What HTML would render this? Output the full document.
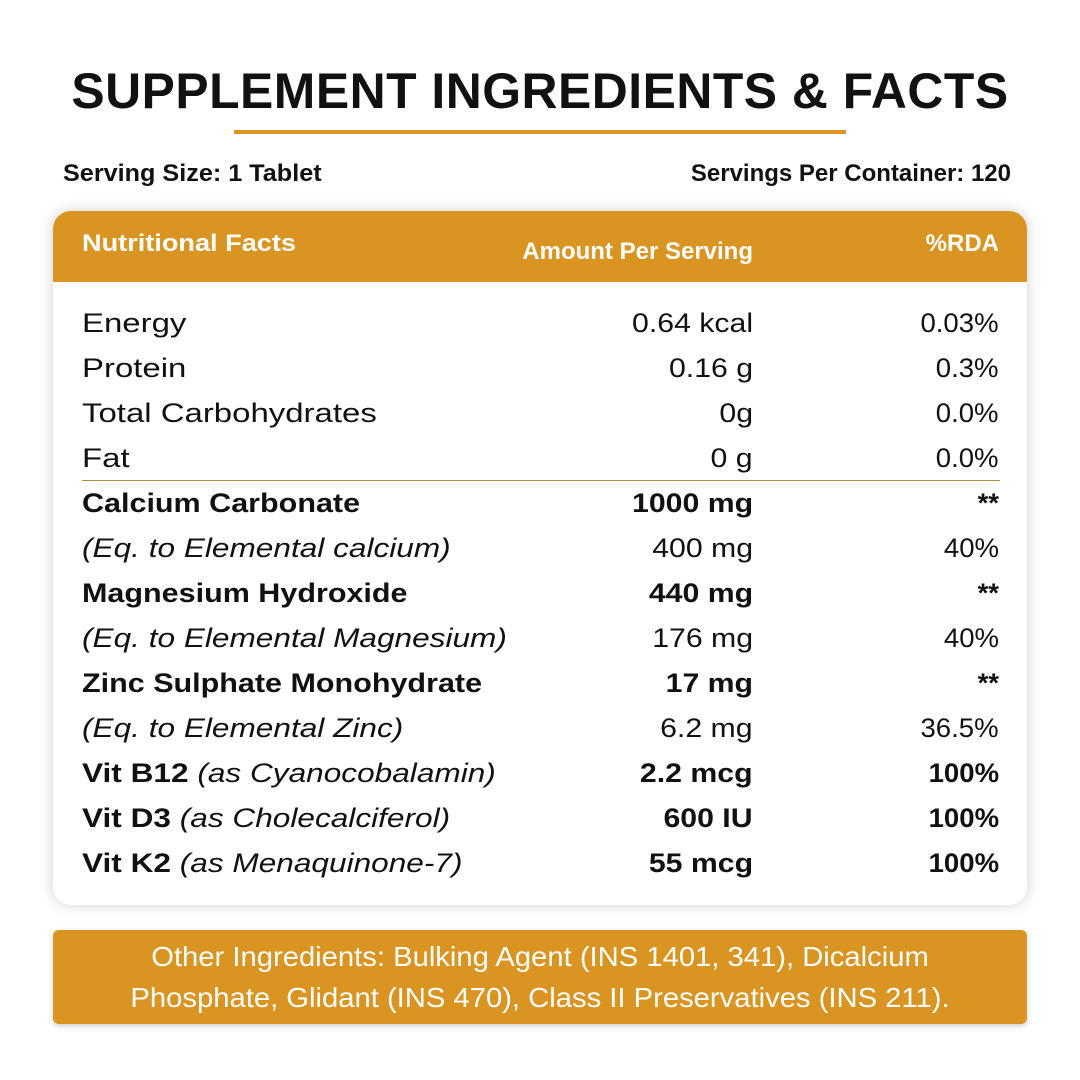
<!DOCTYPE html>
<html><head><meta charset="utf-8"><style>
body{margin:0;width:1080px;height:1080px;background:#fff;font-family:"Liberation Sans",sans-serif;color:#111;position:relative;overflow:hidden}
.a{position:absolute;white-space:nowrap}
h1{position:absolute;left:0;width:1080px;top:62px;margin:0;text-align:center;font-size:50px;font-weight:900;letter-spacing:0.5px;transform:scaleX(0.997)}
.card{position:absolute;left:53px;top:211px;width:974px;height:694px;border-radius:18px;background:#fff;box-shadow:0 0 14px rgba(0,0,0,0.18);overflow:hidden}
.hd{position:absolute;left:0;top:0;width:974px;height:71px;background:#D99422}
.r{position:absolute;left:0;width:1080px;height:45px;font-size:27px;line-height:45px}
.r span{display:inline-block}
.r .n{position:absolute;left:82px;transform-origin:left center;transform:scaleX(1.22)}
.r .n.b{transform:scaleX(1.13)}
.r .n.it{transform:scaleX(1.17)}
.r .m{position:absolute;right:327px;transform-origin:right center;transform:scaleX(1.12)}
.r .p{position:absolute;right:81px;transform-origin:right center;transform:scaleX(1.02)}
.b{font-weight:bold}
i{font-style:italic}
.sl{transform-origin:left center}.sr{transform-origin:right center}
.oth{position:absolute;left:53px;top:930px;width:974px;height:94px;background:#D99422;border-radius:6px;color:#fff;text-align:center;font-size:28px;line-height:41px;padding-top:6px;box-sizing:border-box;box-shadow:0 2px 6px rgba(0,0,0,0.2)}
.oth div{transform:scaleX(1.043)}
</style></head><body>
<h1>SUPPLEMENT INGREDIENTS &amp; FACTS</h1>
<div class="a" style="left:234px;top:130px;width:612px;height:4px;background:#D99422"></div>
<div class="a b sl" style="left:63px;top:160px;font-size:24px;transform:scaleX(1.05)">Serving Size: 1 Tablet</div>
<div class="a b sr" style="right:69px;top:160px;font-size:24px">Servings Per Container: 120</div>
<div class="card"><div class="hd"></div></div>
<div class="a b sl" style="left:82px;top:230px;font-size:24px;color:#fff;transform:scaleX(1.13)">Nutritional Facts</div>
<div class="a b sr" style="right:327px;top:238px;font-size:24px;color:#fff;transform:scaleX(1.0)">Amount Per Serving</div>
<div class="a b sr" style="right:81px;top:230px;font-size:24px;color:#fff;transform:scaleX(1.0)">%RDA</div>
<div class="a" style="left:82px;top:480px;width:918px;height:1px;background:#B08A40"></div>
<div class="r" style="top:301px"><span class="n">Energy</span><span class="m">0.64 kcal</span><span class="p">0.03%</span></div>
<div class="r" style="top:346px"><span class="n">Protein</span><span class="m">0.16 g</span><span class="p">0.3%</span></div>
<div class="r" style="top:391px"><span class="n">Total Carbohydrates</span><span class="m">0g</span><span class="p">0.0%</span></div>
<div class="r" style="top:436px"><span class="n">Fat</span><span class="m">0 g</span><span class="p">0.0%</span></div>
<div class="r" style="top:481px"><span class="n b">Calcium Carbonate</span><span class="m b">1000 mg</span><span class="p b">**</span></div>
<div class="r" style="top:526px"><span class="n it"><i>(Eq. to Elemental calcium)</i></span><span class="m">400 mg</span><span class="p">40%</span></div>
<div class="r" style="top:571px"><span class="n b">Magnesium Hydroxide</span><span class="m b">440 mg</span><span class="p b">**</span></div>
<div class="r" style="top:616px"><span class="n it"><i>(Eq. to Elemental Magnesium)</i></span><span class="m">176 mg</span><span class="p">40%</span></div>
<div class="r" style="top:661px"><span class="n b">Zinc Sulphate Monohydrate</span><span class="m b">17 mg</span><span class="p b">**</span></div>
<div class="r" style="top:706px"><span class="n it"><i>(Eq. to Elemental Zinc)</i></span><span class="m">6.2 mg</span><span class="p">36.5%</span></div>
<div class="r" style="top:751px"><span class="n it"><b>Vit B12</b> <i>(as Cyanocobalamin)</i></span><span class="m b">2.2 mcg</span><span class="p b">100%</span></div>
<div class="r" style="top:796px"><span class="n it"><b>Vit D3</b> <i>(as Cholecalciferol)</i></span><span class="m b">600 IU</span><span class="p b">100%</span></div>
<div class="r" style="top:841px"><span class="n it"><b>Vit K2</b> <i>(as Menaquinone-7)</i></span><span class="m b">55 mcg</span><span class="p b">100%</span></div>
<div class="oth"><div>Other Ingredients: Bulking Agent (INS 1401, 341), Dicalcium<br>Phosphate, Glidant (INS 470), Class II Preservatives (INS 211).</div></div>
</body></html>
